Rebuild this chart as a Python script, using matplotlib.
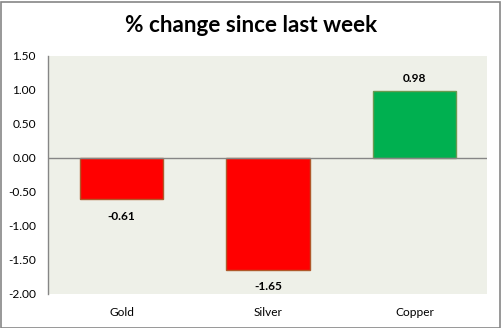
import matplotlib
matplotlib.use("Agg")
import matplotlib.pyplot as plt
from matplotlib.patches import Rectangle

categories = ["Gold", "Silver", "Copper"]
values = [-0.61, -1.65, 0.98]
yticks = [-2.0, -1.5, -1.0, -0.5, 0.0, 0.5, 1.0, 1.5]
title = "% change since last week"

plt.rcParams['font.family'] = ['Lato', 'DejaVu Sans']

W, H = 502, 328
fig = plt.figure(figsize=(W/100, H/100), dpi=100)
fig.patch.set_facecolor("white")
ax = fig.add_axes([48.5/W, 1-294/H, (487.5-48.5)/W, (294-56)/H])
ax.set_facecolor("#EEF0E8")

fills = ["#FF0000" if v < 0 else "#00B050" for v in values]
edges = ["#B0582A" if v < 0 else "#6A9A50" for v in values]
x = list(range(len(categories)))
bars = ax.bar(x, values, width=0.57, color=fills, edgecolor=edges, linewidth=1.0, zorder=3)

fs = 8.6
ax.set_xlim(-0.5, len(categories) - 0.5)
ax.set_ylim(-2.0, 1.5)
ax.set_yticks(yticks)
ax.set_yticklabels([f"{t:.2f}" for t in yticks], fontsize=fs)
ax.set_xticks(x)
ax.set_xticklabels(categories, fontsize=fs)
ax.tick_params(axis='both', length=0, colors="black")
ax.tick_params(axis='y', pad=9)
ax.tick_params(axis='x', pad=9)
ax.axhline(0, color="#868686", linewidth=1.0, zorder=4)
for s in ["top", "right", "bottom"]:
    ax.spines[s].set_visible(False)
ax.spines["left"].set_color("#868686")
ax.spines["left"].set_linewidth(1.0)

for b, v in zip(bars, values):
    off = -12 if v < 0 else 9
    ax.annotate(f"{v:.2f}", (b.get_x() + b.get_width()/2, v), xytext=(0, off),
                textcoords="offset points", ha="center", va="center",
                fontsize=fs, fontweight="bold")

fig.text(251/W, 1-25/H, title, ha="center", va="center", fontsize=16.2, fontweight="bold")

fig.patches.append(Rectangle((0.5/W, 0.5/H), (W-2)/W, (H-2)/H, transform=fig.transFigure,
                             fill=False, edgecolor="#868686", linewidth=1.2))

fig.savefig("out.png", dpi=100, facecolor="white")
